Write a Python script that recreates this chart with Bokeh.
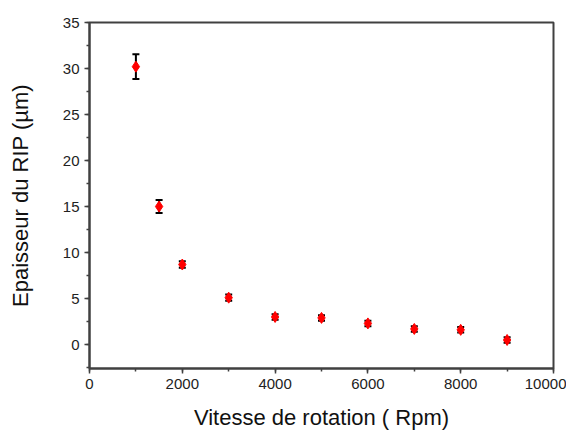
from bokeh.plotting import figure
from bokeh.models import Whisker, ColumnDataSource, SingleIntervalTicker, Range1d, TeeHead
from bokeh.embed import file_html
from bokeh.resources import INLINE

speed = [1000, 1500, 2000, 3000, 4000, 5000, 6000, 7000, 8000, 9000]
thickness = [30.2, 15.0, 8.7, 5.1, 3.0, 2.9, 2.3, 1.7, 1.6, 0.5]
error = [1.35, 0.7, 0.35, 0.35, 0.3, 0.3, 0.3, 0.3, 0.3, 0.3]

lower = [t - e for t, e in zip(thickness, error)]
upper = [t + e for t, e in zip(thickness, error)]
src = ColumnDataSource(dict(x=speed, y=thickness, lo=lower, hi=upper))

FONT = "Liberation Sans"
AX = "#404040"

p = figure(width=566, height=434, output_backend="svg", toolbar_location=None,
           x_range=Range1d(0, 10000), y_range=Range1d(-2.6, 35),
           min_border_left=89, min_border_right=13, min_border_top=22, min_border_bottom=66)
p.frame_width = 464
p.frame_height = 346

p.scatter("x", "y", source=src, marker="diamond", size=11, fill_color="red", line_color="red")
w = Whisker(source=src, base="x", lower="lo", upper="hi", line_color="black", line_width=2,
            upper_head=TeeHead(size=7, line_color="black", line_width=2),
            lower_head=TeeHead(size=7, line_color="black", line_width=2))
p.add_layout(w)

p.grid.visible = False
p.outline_line_color = AX
p.outline_line_width = 2
p.background_fill_color = "white"
p.border_fill_color = "white"

p.xaxis.ticker = SingleIntervalTicker(interval=2000, num_minor_ticks=2)
p.yaxis.ticker = SingleIntervalTicker(interval=5, num_minor_ticks=2)

for ax in (p.xaxis[0], p.yaxis[0]):
    ax.axis_line_color = AX
    ax.axis_line_width = 2
    ax.major_tick_line_color = AX
    ax.minor_tick_line_color = AX
    ax.major_tick_line_width = 1.5
    ax.minor_tick_line_width = 1.5
    ax.major_tick_out = 5
    ax.major_tick_in = 0
    ax.minor_tick_out = 3
    ax.minor_tick_in = 0
    ax.major_label_text_font = FONT
    ax.major_label_text_font_size = "15px"
    ax.major_label_text_color = "#222222"
    ax.axis_label_text_font = FONT
    ax.axis_label_text_font_size = "22px"
    ax.axis_label_text_font_style = "normal"
    ax.axis_label_text_color = "#111111"

p.xaxis.axis_label = "Vitesse de rotation ( Rpm)"
p.yaxis.axis_label = "Epaisseur du RIP (µm)"
p.xaxis.major_label_standoff = 5
p.yaxis.major_label_standoff = 5
p.xaxis.axis_label_standoff = 13
p.yaxis.axis_label_standoff = 27

open("out.html", "w").write(file_html(p, INLINE))
